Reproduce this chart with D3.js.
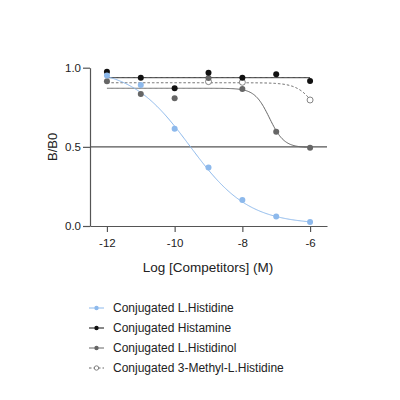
<!DOCTYPE html>
<html>
<head>
<meta charset="utf-8">
<script src="https://cdn.jsdelivr.net/npm/d3@7"></script>
<style>
  body { margin: 0; background: #fff; }
  svg { display: block; font-family: "Liberation Sans", Arial, sans-serif; }
</style>
</head>
<body>
<div id="chart"></div>
<script>
// x values (log molar)
const logConc = [-12, -11, -10, -9, -8, -7, -6];

// measured B/B0 (null = hidden / not shown)
const histidine   = [0.95, 0.89, 0.615, 0.37, 0.165, 0.06, 0.025];
const histamine   = [0.975, 0.937, 0.87, 0.968, 0.937, 0.958, 0.916];
const histidinol  = [0.914, 0.834, 0.807, 0.935, 0.865, 0.596, 0.495];
const methylHis   = [null, null, null, 0.912, 0.908, null, 0.796];

// fit params: [top, bottom, logIC50, hill]
const fitHistidine  = [1.0, 0.01, -9.55, 0.5];
const fitHistamine  = [0.937, 0.937, -9, 1];
const fitHistidinol = [0.87, 0.495, -7.2, 2];
const fitMethyl     = [0.905, 0.5, -5.7, 1.5];

const seriesNames = [
  'Conjugated L.Histidine',
  'Conjugated Histamine',
  'Conjugated L.Histidinol',
  'Conjugated 3-Methyl-L.Histidine'
];

const yTicks = [0, 0.5, 1.0];
const xTicks = [-12, -10, -8, -6];
const refLine = 0.5;

const width = 400, height = 400;

const svg = d3.select('#chart')
  .append('svg')
  .attr('width', width)
  .attr('height', height);

const x = d3.scaleLinear().domain([-12.5, -5.5]).range([90, 327]);
const y = d3.scaleLinear().domain([0, 1]).range([226, 67.7]);

const axisColor = '#555';

// axes
const gx = svg.append('g')
  .attr('transform', `translate(0,${y(0)})`)
  .call(d3.axisBottom(x).tickValues(xTicks).tickSize(6).tickSizeOuter(0).tickFormat(d => String(d)));
const gy = svg.append('g')
  .attr('transform', `translate(${x(-12.5)},0)`)
  .call(d3.axisLeft(y).tickValues(yTicks).tickSize(7).tickPadding(2).tickSizeOuter(0).tickFormat(d3.format('.1f')));

[gx, gy].forEach(g => {
  g.select('.domain').attr('stroke', axisColor).attr('stroke-width', 1.2);
  g.selectAll('.tick line').attr('stroke', axisColor).attr('stroke-width', 1.2);
  g.selectAll('.tick text').attr('fill', '#222').attr('font-size', 11.5)
    .attr('font-family', '"Liberation Sans", Arial, sans-serif');
});
gx.selectAll('.tick text').attr('dy', '1.05em');

// axis titles
svg.append('text')
  .attr('x', 208).attr('y', 272)
  .attr('text-anchor', 'middle')
  .attr('font-size', 13.5)
  .attr('fill', '#222')
  .text('Log [Competitors] (M)');

svg.append('text')
  .attr('transform', `translate(52,${y(0.5)}) rotate(-90)`)
  .attr('text-anchor', 'middle')
  .attr('dy', '0.35em')
  .attr('font-size', 13)
  .attr('fill', '#222')
  .text('B/B0');

// reference line at 0.5
svg.append('line')
  .attr('x1', x(-12.5)).attr('x2', x(-5.5))
  .attr('y1', y(refLine)).attr('y2', y(refLine))
  .attr('stroke', axisColor).attr('stroke-width', 1.2);

function logistic(p) {
  return v => p[1] + (p[0] - p[1]) / (1 + Math.pow(10, (v - p[2]) * p[3]));
}

const series = [
  { name: seriesNames[0], data: histidine,  fit: fitHistidine,  color: '#8db9ec', fill: '#8db9ec', dash: null },
  { name: seriesNames[1], data: histamine,  fit: fitHistamine,  color: '#111',    fill: '#111',    dash: null },
  { name: seriesNames[2], data: histidinol, fit: fitHistidinol, color: '#666',    fill: '#666',    dash: null },
  { name: seriesNames[3], data: methylHis,  fit: fitMethyl,     color: '#666',    fill: '#fff',    dash: '2.5,2' }
];

const curveX = d3.range(0, 241).map(i => -12 + i * 6 / 240);
const line = d3.line().x(d => x(d[0])).y(d => y(d[1]));

// draw in reverse so histidine sits on top
series.slice().reverse().forEach(s => {
  const f = logistic(s.fit);
  svg.append('path')
    .datum(curveX.map(v => [v, f(v)]))
    .attr('d', line)
    .attr('fill', 'none')
    .attr('stroke', s.color)
    .attr('stroke-width', 1)
    .attr('stroke-dasharray', s.dash);
});

series.slice().reverse().forEach(s => {
  const pts = logConc.map((v, i) => [v, s.data[i]]).filter(d => d[1] != null);
  svg.append('g').selectAll('circle')
    .data(pts)
    .enter()
    .append('circle')
    .attr('cx', d => x(d[0]))
    .attr('cy', d => y(d[1]))
    .attr('r', 3)
    .attr('fill', s.fill)
    .attr('stroke', s.fill === '#fff' ? '#666' : 'none')
    .attr('stroke-width', 0.8);
});

// legend
const legend = svg.append('g');
series.forEach((s, i) => {
  const ly = 308 + i * 20;
  legend.append('line')
    .attr('x1', 89).attr('x2', 104)
    .attr('y1', ly).attr('y2', ly)
    .attr('stroke', s.color)
    .attr('stroke-width', 1)
    .attr('stroke-dasharray', s.dash);
  legend.append('circle')
    .attr('cx', 96.5).attr('cy', ly).attr('r', 2.2)
    .attr('fill', s.fill)
    .attr('stroke', s.fill === '#fff' ? '#666' : 'none')
    .attr('stroke-width', 0.8);
  legend.append('text')
    .attr('x', 113).attr('y', ly)
    .attr('dy', '0.35em')
    .attr('font-size', 12)
    .attr('fill', '#222')
    .text(s.name);
});
</script>
</body>
</html>
